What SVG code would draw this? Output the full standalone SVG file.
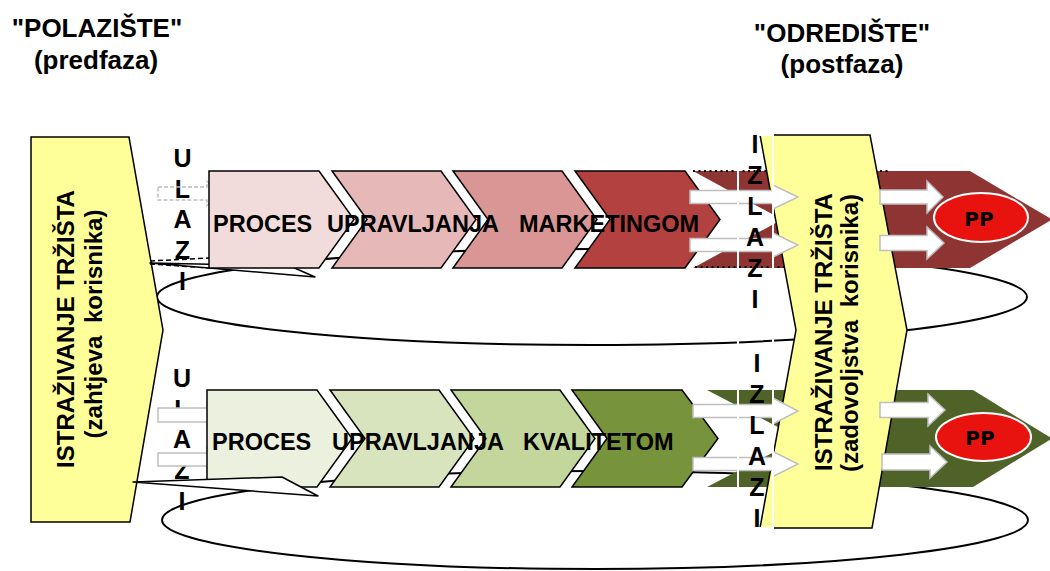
<svg xmlns="http://www.w3.org/2000/svg" width="1050" height="571" viewBox="0 0 1050 571">
<style>
text{font-family:"Liberation Sans",Arial,sans-serif;font-weight:bold;fill:#000}
.h{font-size:26px;text-anchor:middle}
.p{font-size:23.5px}
.v{font-size:24px;text-anchor:middle}
.l{font-size:25px;text-anchor:middle}
.pp{font-family:"DejaVu Sans",sans-serif;font-size:20px;text-anchor:middle}
.ch{stroke:#000;stroke-width:1.5}
.yb{fill:#FFFF99;stroke:#000;stroke-width:1.5}
.wa{fill:#fff;stroke:#BFBFBF;stroke-width:1.5}
.ga{fill:#fff;stroke:#BFBFBF;stroke-width:1.5}
.da{fill:none;stroke:#BFBFBF;stroke-width:1.5;stroke-dasharray:4 2}
.loop{fill:none;stroke:#000;stroke-width:2}
.call{fill:#fff;stroke:#000;stroke-width:1.5;stroke-linejoin:round}
.dash{stroke:#000;stroke-width:1.5;stroke-dasharray:5 3;fill:none}
.dot{stroke:#000;stroke-width:2;stroke-dasharray:2 3.5;fill:none}
.pe{stroke:#fff;stroke-width:2}
</style>

<g id="headings">
<text class="h" x="97" y="37">"POLAZIŠTE"</text>
<text class="h" x="96" y="69">(predfaza)</text>
<text class="h" x="842" y="42">"ODREDIŠTE"</text>
<text class="h" x="842" y="73">(postfaza)</text>
</g>

<g id="loops">
<ellipse class="loop" cx="592" cy="297" rx="435" ry="48"/>
<ellipse class="loop" cx="595" cy="520" rx="433" ry="49"/>
</g>

<g id="polaziste">
<polygon class="yb" points="31,137 129,137 163,330 130,522 31,522"/>
<text class="v" transform="translate(74,329) rotate(-90)">ISTRAŽIVANJE TRŽIŠTA</text>
<text class="v" transform="translate(102,324) rotate(-90)" style="word-spacing:6px">(zahtjeva korisnika)</text>
</g>

<g id="ulazi-top">
<text class="l"><tspan x="182.5" y="167">U</tspan><tspan x="182.5" y="198">L</tspan><tspan x="182.5" y="228">A</tspan><tspan x="182.5" y="259">Z</tspan><tspan x="182.5" y="290">I</tspan></text>
</g>
<g id="ulazi-bottom">
<text class="l"><tspan x="182" y="387">U</tspan><tspan x="182" y="418">L</tspan><tspan x="182" y="448">A</tspan><tspan x="182" y="479">Z</tspan><tspan x="182" y="510">I</tspan></text>
</g>

<g id="connectors-in">
<path class="da" d="M158,187 L207,187 L207,181.5 L222,193.5 L207,205.5 L207,200 L158,200 Z"/>
<path class="ga" d="M158,408 L207,408 L207,403 L222,415 L207,427 L207,422 L158,422 Z"/>
<path class="ga" d="M158,453 L207,453 L207,447.5 L222,459.5 L207,471.5 L207,466 L158,466 Z"/>
<line class="dash" x1="150" y1="261" x2="210" y2="258"/>
<line class="dash" x1="150" y1="264" x2="210" y2="268"/>
<polygon class="call" points="150,263 290,266 315,277"/>
</g>

<g id="proces-marketing">
<polygon class="ch" fill="#F2DCDB" points="209,171 319,171 354,219.5 319,268 209,268"/>
<polygon class="ch" fill="#E6B9B8" points="332,171 441,171 476,219.5 441,268 332,268 367,219.5"/>
<polygon class="ch" fill="#D99694" points="453,171 562,171 597,219.5 562,268 453,268 488,219.5"/>
<polygon class="ch" fill="#B3413F" points="575,171 685,171 720,219.5 685,268 575,268 610,219.5"/>
<text class="p" y="232"><tspan x="213">PROCES</tspan> <tspan x="327">UPRAVLJANJA</tspan> <tspan x="519">MARKETINGOM</tspan></text>
</g>

<g id="proces-kvaliteta">
<polygon class="ch" fill="#EBF1DE" points="207,390 317,390 352,438.5 317,487 207,487"/>
<polygon class="ch" fill="#D7E4BD" points="330,390 439,390 474,438.5 439,487 330,487 365,438.5"/>
<polygon class="ch" fill="#C3D69B" points="451,390 560,390 595,438.5 560,487 451,487 486,438.5"/>
<polygon class="ch" fill="#77933C" points="572,390 682,390 718,438.5 682,487 572,487 607,438.5"/>
<polygon class="call" points="133,482 282,477 318,496"/>
<text class="p" y="450"><tspan x="212">PROCES</tspan> <tspan x="332">UPRAVLJANJA</tspan> <tspan x="523">KVALITETOM</tspan></text>
</g>

<g id="band-top">
<polygon fill="#8E3432" points="693,171 970,171 1052,219.5 970,268 693,268 782,219.5"/>
<line class="dot" x1="693" y1="171" x2="888" y2="171"/>
<line class="dot" x1="695" y1="267" x2="888" y2="267"/>
</g>
<g id="band-bottom">
<polygon fill="#4F6228" points="707,390 973,390 1052,438.5 973,487 707,487 800,438.5"/>
</g>

<g id="odrediste">
<polygon class="yb" points="760,135 870,135 907,330 872,528 760,528 796,330"/>
<text class="v" transform="translate(832,332) rotate(-90)">ISTRAŽIVANJE TRŽIŠTA</text>
<text class="v" transform="translate(858,333) rotate(-90)" style="word-spacing:6px">(zadovoljstva korisnika)</text>
</g>

<g id="connectors-out">
<path class="wa" d="M690,190.5 L773,190.5 L773,185 L798,197 L773,209 L773,203.5 L690,203.5 Z"/>
<path class="wa" d="M690,238.5 L773,238.5 L773,233 L798,245 L773,257 L773,251.5 L690,251.5 Z"/>
<path class="wa" d="M880,190 L927,190 L927,181 L943,197 L927,213 L927,204 L880,204 Z"/>
<path class="wa" d="M880,235.5 L927,235.5 L927,227 L944,243 L927,259 L927,250.5 L880,250.5 Z"/>
<path class="wa" d="M693,404.5 L773,404.5 L773,398 L798,411 L773,424 L773,417.5 L693,417.5 Z"/>
<path class="wa" d="M693,457.5 L773,457.5 L773,451.5 L798,464 L773,476.5 L773,470.5 L693,470.5 Z"/>
<path class="wa" d="M880,402.5 L928,402.5 L928,394 L945,410 L928,426 L928,417.5 L880,417.5 Z"/>
<path class="wa" d="M882,454 L930,454 L930,446 L947,462 L930,478 L930,470 L882,470 Z"/>
</g>

<g id="izlazi">
<rect x="738" y="135" width="35" height="393" fill="none" stroke="#fff" stroke-width="2"/>
<text class="l"><tspan x="755" y="153">I</tspan><tspan x="755" y="184">Z</tspan><tspan x="755" y="215">L</tspan><tspan x="755" y="246">A</tspan><tspan x="755" y="277">Z</tspan><tspan x="755" y="308">I</tspan></text>
<text class="l"><tspan x="757" y="372">I</tspan><tspan x="757" y="403">Z</tspan><tspan x="757" y="434">L</tspan><tspan x="757" y="465">A</tspan><tspan x="757" y="496">Z</tspan><tspan x="757" y="527">I</tspan></text>
</g>

<g id="pp-top">
<ellipse class="pe" cx="981" cy="217.5" rx="47" ry="24.5" fill="#E8120F"/>
<text class="pp" x="979" y="226">PP</text>
</g>
<g id="pp-bottom">
<ellipse class="pe" cx="983.5" cy="437" rx="47.5" ry="24" fill="#E8120F"/>
<text class="pp" x="980" y="445">PP</text>
</g>
</svg>
